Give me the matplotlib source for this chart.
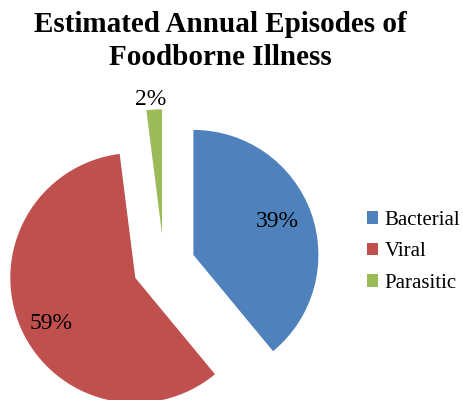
import matplotlib
matplotlib.use('Agg')
import matplotlib.pyplot as plt

categories = ['Bacterial', 'Viral', 'Parasitic']
shares = [39, 59, 2]
colors = ['#4F81BD', '#C0504D', '#9BBB59']

plt.rcParams['font.family'] = ['Liberation Serif', 'DejaVu Serif']

fig = plt.figure(figsize=(4.63, 4.0), dpi=100)
fig.patch.set_facecolor('white')
ax = fig.add_axes([0, 0, 1, 1])

wedges, texts, autotexts = ax.pie(
    shares, colors=colors, explode=[0.25] * len(shares),
    startangle=90, counterclock=False, radius=1.0,
    autopct=lambda p: f'{p:.0f}%', pctdistance=0.75,
    textprops=dict(fontsize=17, color='#000000'),
)
# nudge the percentage labels to where the original puts them
label_pos = [(0.904, 0.35), (-0.90, -0.465), (-0.11, 1.33)]
for t, pos in zip(autotexts, label_pos):
    t.set_position(pos)

ax.set_aspect('auto')
ax.set_xlim(-164 / 125, (463 - 164) / 125)
ax.set_ylim(-(400 - 265.5) / 125, 265.5 / 125)
ax.axis('off')

fig.text(0.477, 1 - 41 / 400, 'Estimated Annual Episodes of\nFoodborne Illness',
         ha='center', va='center', fontsize=21, fontweight='bold', linespacing=1.32)

ax.legend(wedges, categories, loc='center left', bbox_to_anchor=(367 / 463, 0.37),
          bbox_transform=fig.transFigure, frameon=False, fontsize=15,
          handlelength=0.55, handleheight=0.55, handletextpad=0.3,
          labelspacing=0.6, borderpad=0, borderaxespad=0)

fig.savefig('out.png', dpi=100)
